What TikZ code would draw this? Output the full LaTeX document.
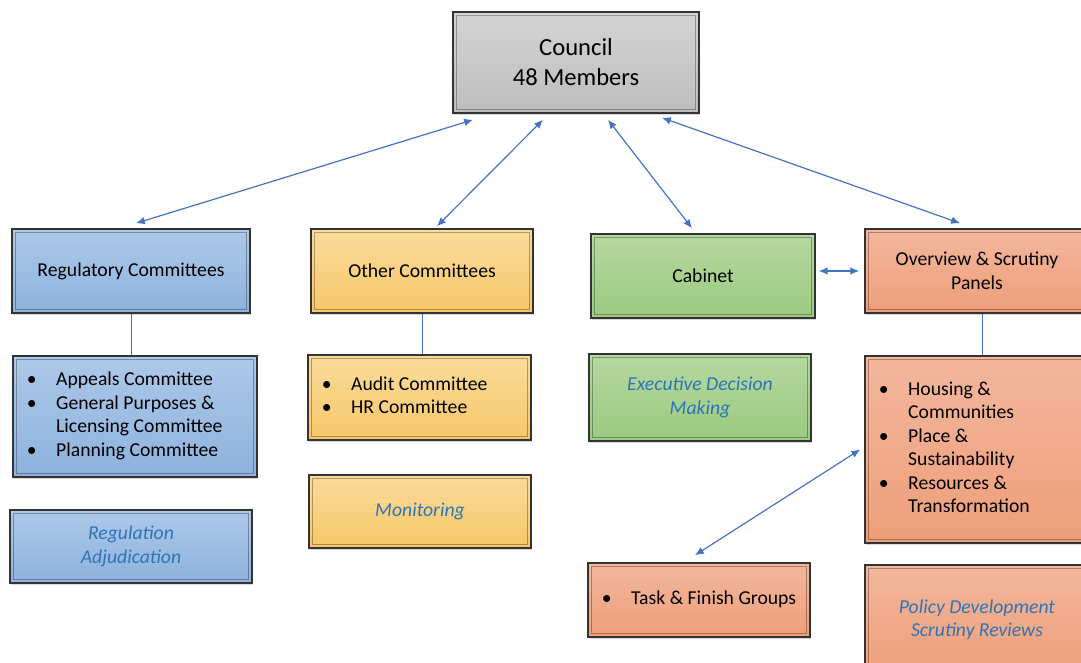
\documentclass[tikz,border=0pt]{standalone}
\usepackage{fontspec}
\setmainfont{Carlito}
\usetikzlibrary{arrows.meta,shadows}
\definecolor{linkblue}{HTML}{4472C4}
\definecolor{notetext}{HTML}{2E75B6}
\definecolor{grayT}{HTML}{D4D4D4}
\definecolor{grayB}{HTML}{BDBDBD}
\definecolor{blueT}{HTML}{ADC8E8}
\definecolor{blueB}{HTML}{8DB2DE}
\definecolor{yellowT}{HTML}{FBDB9C}
\definecolor{yellowB}{HTML}{F6C767}
\definecolor{greenT}{HTML}{B5D8A0}
\definecolor{greenB}{HTML}{9BCA80}
\definecolor{salmonT}{HTML}{F3B79D}
\definecolor{salmonB}{HTML}{EE9E79}
\newcommand{\itm}[1]{\makebox[0.73cm][l]{\textbullet}#1}
\newcommand{\cont}[1]{\hspace*{0.73cm}#1}
\newcommand{\listcol}[2]{\makebox[#1][l]{\begin{tabular}{@{}l@{}}#2\end{tabular}}}
\begin{document}
\begin{tikzpicture}[x=0.025cm,y=-0.025cm,
    orgbox/.style={draw=black!80, line width=1.1pt, inner ysep=0pt,
        align=center, font=\fontsize{14}{16.7}\selectfont,
        drop shadow={shadow xshift=0.8pt, shadow yshift=-1.2pt, opacity=0.3},
        path picture={\draw[black, opacity=0.3, line width=0.6pt]
            ([shift={(2.5pt,-2.5pt)}]path picture bounding box.north west) rectangle
            ([shift={(-2.5pt,2.5pt)}]path picture bounding box.south east);}},
    graybox/.style={orgbox, top color=grayT, bottom color=grayB},
    bluebox/.style={orgbox, top color=blueT, bottom color=blueB},
    yellowbox/.style={orgbox, top color=yellowT, bottom color=yellowB},
    greenbox/.style={orgbox, top color=greenT, bottom color=greenB},
    salmonbox/.style={orgbox, top color=salmonT, bottom color=salmonB},
    notebox/.style={font=\fontsize{14}{16.7}\selectfont\itshape, text=notetext},
    link/.style={linkblue, line width=0.85pt, <->, >={Latex[length=2.2mm,width=1.9mm]}},
    tie/.style={linkblue, line width=0.6pt}]
    \useasboundingbox (0,0) rectangle (1081,663);
    \clip (0,0) rectangle (1081,663);
    % top
    \node[graybox, minimum width=6.15cm, minimum height=2.525cm,
        font=\fontsize{17.5}{21.3}\selectfont] (council) at (576,62.5) {Council\\48 Members};
    % second row
    \node[bluebox, minimum width=5.95cm, minimum height=2.1cm] (reg) at (131,271) {Regulatory Committees};
    \node[yellowbox, minimum width=5.55cm, minimum height=2.1cm] (other) at (422,271) {Other Committees};
    \node[greenbox, minimum width=5.6cm, minimum height=2.1cm] (cabinet) at (703,276) {Cabinet};
    \node[salmonbox, minimum width=5.6cm, minimum height=2.1cm] (overview) at (977,271) {Overview \& Scrutiny\\Panels};
    % member lists
    \node[bluebox, minimum width=6.1cm, minimum height=3.025cm] (appeals) at (135,416.5)
        {\listcol{5.4cm}{\itm{Appeals Committee}\\\itm{General Purposes \&}\\\cont{Licensing Committee}\\\itm{Planning Committee}}};
    \node[yellowbox, minimum width=5.575cm, minimum height=2.125cm] (audit) at (419.5,397.5)
        {\listcol{4.875cm}{\itm{Audit Committee}\\\itm{HR Committee}}};
    \node[greenbox, notebox, minimum width=5.55cm, minimum height=2.175cm] (exec) at (700,397.5)
        {Executive Decision\\Making};
    \node[salmonbox, minimum width=5.6cm, minimum height=4.675cm] (housing) at (977,449.5)
        {\listcol{4.9cm}{\itm{Housing \&}\\\cont{Communities}\\\itm{Place \&}\\\cont{Sustainability}\\\itm{Resources \&}\\\cont{Transformation}}};
    % roles
    \node[bluebox, notebox, minimum width=6.05cm, minimum height=1.825cm] (regnote) at (131,546.5)
        {Regulation\\Adjudication};
    \node[yellowbox, notebox, minimum width=5.55cm, minimum height=1.825cm] (monitor) at (420,511.5) {Monitoring};
    \node[salmonbox, minimum width=5.55cm, minimum height=1.85cm] (task) at (699,600)
        {\listcol{4.85cm}{\itm{Task \& Finish Groups}}};
    \node[salmonbox, notebox, minimum width=5.6cm, minimum height=2.75cm] (policy) at (977,620)
        {Policy Development\\Scrutiny Reviews};
    % connectors
    \draw[link] ([xshift=-2.575cm,yshift=-0.15cm]council.south) -- ([xshift=0.125cm,yshift=0.125cm]reg.north);
    \draw[link] ([xshift=-0.825cm,yshift=-0.15cm]council.south) -- ([xshift=0.375cm,yshift=0.05cm]other.north);
    \draw[link] ([xshift=0.8cm,yshift=-0.15cm]council.south) -- ([xshift=-0.275cm,yshift=0.125cm]cabinet.north);
    \draw[link] ([xshift=2.15cm,yshift=-0.1cm]council.south) -- ([xshift=-0.425cm,yshift=0.125cm]overview.north);
    \draw[link] ([xshift=0.075cm]cabinet.east |- overview.west) -- ([xshift=-0.125cm]overview.west);
    \draw[link] ([xshift=-0.1cm]housing.west) -- ([xshift=-0.1cm,yshift=0.175cm]task.north);
    \draw[tie] (reg.south) -- (reg.south |- appeals.north);
    \draw[tie] (other.south) -- (other.south |- audit.north);
    \draw[tie] ([xshift=0.125cm]overview.south) -- ([xshift=0.125cm]overview.south |- housing.north);
\end{tikzpicture}
\end{document}
